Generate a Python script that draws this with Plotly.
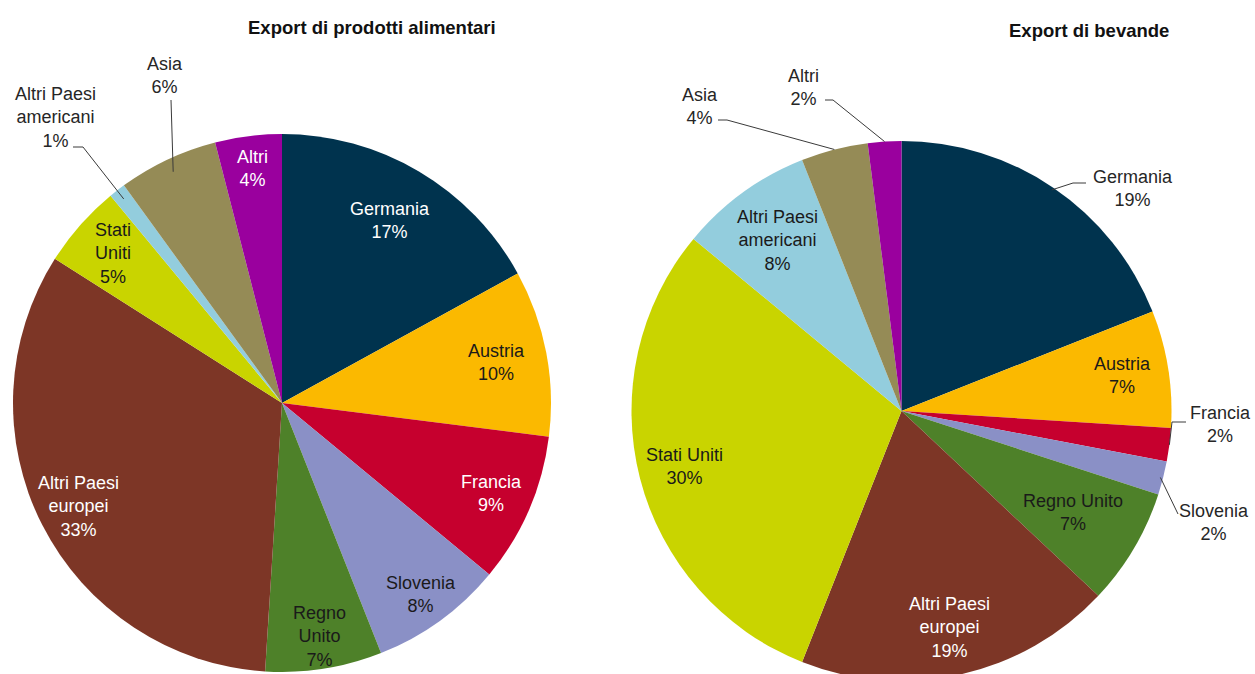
import math
import plotly.graph_objects as go

# ---------------- data ----------------
categories = ["Germania", "Austria", "Francia", "Slovenia", "Regno Unito",
              "Altri Paesi europei", "Stati Uniti", "Altri Paesi americani", "Asia", "Altri"]
alimentari = [17, 10, 9, 8, 7, 33, 5, 1, 6, 4]
bevande = [19, 7, 2, 2, 7, 19, 30, 8, 4, 2]

alim_names = ["Germania", "Austria", "Francia", "Slovenia", "Regno<br>Unito",
              "Altri Paesi<br>europei", "Stati<br>Uniti", "Altri Paesi<br>americani", "Asia", "Altri"]
bev_names = ["Germania", "Austria", "Francia", "Slovenia", "Regno Unito",
             "Altri Paesi<br>europei", "Stati Uniti", "Altri Paesi<br>americani", "Asia", "Altri"]

title_alim = "Export di prodotti alimentari"
title_bev = "Export di bevande"

# ---------------- style ----------------
colors = ["#00334E", "#FBB900", "#C6002E", "#8A90C6", "#4E8129",
          "#7D3626", "#C9D400", "#93CDDD", "#958B56", "#9A009E"]
text_colors = ["white", "#1a1a1a", "white", "#1a1a1a", "#1a1a1a",
               "white", "#1a1a1a", "#1a1a1a", "#1a1a1a", "white"]
FONT = "Liberation Sans, Arial, sans-serif"
LABEL_SIZE = 18
TITLE_SIZE = 18.5
W, H = 1255, 700

# pie geometry in pixels (center x, center y, radius)
geo_alim = (282, 403, 269)
geo_bev = (901.5, 411, 270)

# label placement: ("in", radius fraction) or ("out", start r fraction, [elbow/end px...], label center px)
place_alim = [
    ("in", 0.79), ("in", 0.81), ("in", 0.85), ("in", 0.88), ("in", 0.88),
    ("in", 0.85), ("in", 0.84),
    ("out", 0.96, [(83, 147), (73, 147)], (55, 117)),
    ("out", 0.95, [(171, 100)], (165, 76)),
    ("in", 0.88),
]
place_bev = [
    ("out", 0.99, [(1073, 183), (1086, 183)], (1133, 188)),
    ("in", 0.83),
    ("out", 1.0, [(1172, 422), (1186, 422)], (1220, 424)),
    ("out", 0.99, [(1178, 514)], (1214, 522)),
    ("in", 0.74),
    ("in", 0.82), ("in", 0.83), ("in", 0.78),
    ("out", 1.0, [(727, 120), (718, 120)], (700, 107)),
    ("out", 1.0, [(833, 100), (825, 100)], (803, 87)),
]


def px(x):
    return x / W


def py(y):
    return 1 - y / H


def domain(geo):
    cx, cy, r = geo
    return dict(x=[px(cx - r), px(cx + r)], y=[py(cy + r), py(cy - r)])


fig = go.Figure()
for values, geo in ((alimentari, geo_alim), (bevande, geo_bev)):
    fig.add_trace(go.Pie(
        labels=categories, values=values, sort=False, direction="clockwise",
        rotation=0, textinfo="none", hoverinfo="label+percent",
        marker=dict(colors=colors, line=dict(width=0)),
        domain=domain(geo), showlegend=False,
    ))

annotations = []
shapes = []


def add_labels(values, names, geo, placement):
    cx, cy, r = geo
    total = sum(values)
    cum = 0
    for i, v in enumerate(values):
        theta = (cum + v / 2) / total * 2 * math.pi
        cum += v
        text = f"{names[i]}<br>{round(100 * v / total)}%"
        p = placement[i]
        if p[0] == "in":
            x = cx + p[1] * r * math.sin(theta)
            y = cy - p[1] * r * math.cos(theta)
            color = text_colors[i]
        else:
            sx = cx + p[1] * r * math.sin(theta)
            sy = cy - p[1] * r * math.cos(theta)
            pts = [(sx, sy)] + p[2]
            path = "M " + " L ".join(f"{px(a)},{py(b)}" for a, b in pts)
            shapes.append(dict(type="path", path=path, xref="paper", yref="paper",
                               line=dict(color="#3a3a3a", width=1)))
            x, y = p[3]
            color = "#262626"
        annotations.append(dict(
            x=px(x), y=py(y), xref="paper", yref="paper", text=text,
            showarrow=False, xanchor="center", yanchor="middle", align="center",
            font=dict(family=FONT, size=LABEL_SIZE, color=color)))


add_labels(alimentari, alim_names, geo_alim, place_alim)
add_labels(bevande, bev_names, geo_bev, place_bev)

annotations.append(dict(x=px(372), y=py(27), xref="paper", yref="paper",
                        text=f"<b>{title_alim}</b>", showarrow=False,
                        xanchor="center", yanchor="middle",
                        font=dict(family=FONT, size=TITLE_SIZE, color="#111111")))
annotations.append(dict(x=px(1089), y=py(31), xref="paper", yref="paper",
                        text=f"<b>{title_bev}</b>", showarrow=False,
                        xanchor="center", yanchor="middle",
                        font=dict(family=FONT, size=TITLE_SIZE, color="#111111")))

fig.update_layout(
    width=W, height=H, autosize=False,
    margin=dict(l=0, r=0, t=0, b=0),
    paper_bgcolor="white", plot_bgcolor="white",
    annotations=annotations, shapes=shapes,
    font=dict(family=FONT),
)

fig.write_html("out.html", config={"displayModeBar": False},
               post_script="document.body.style.margin='0';document.body.style.overflow='hidden';")
